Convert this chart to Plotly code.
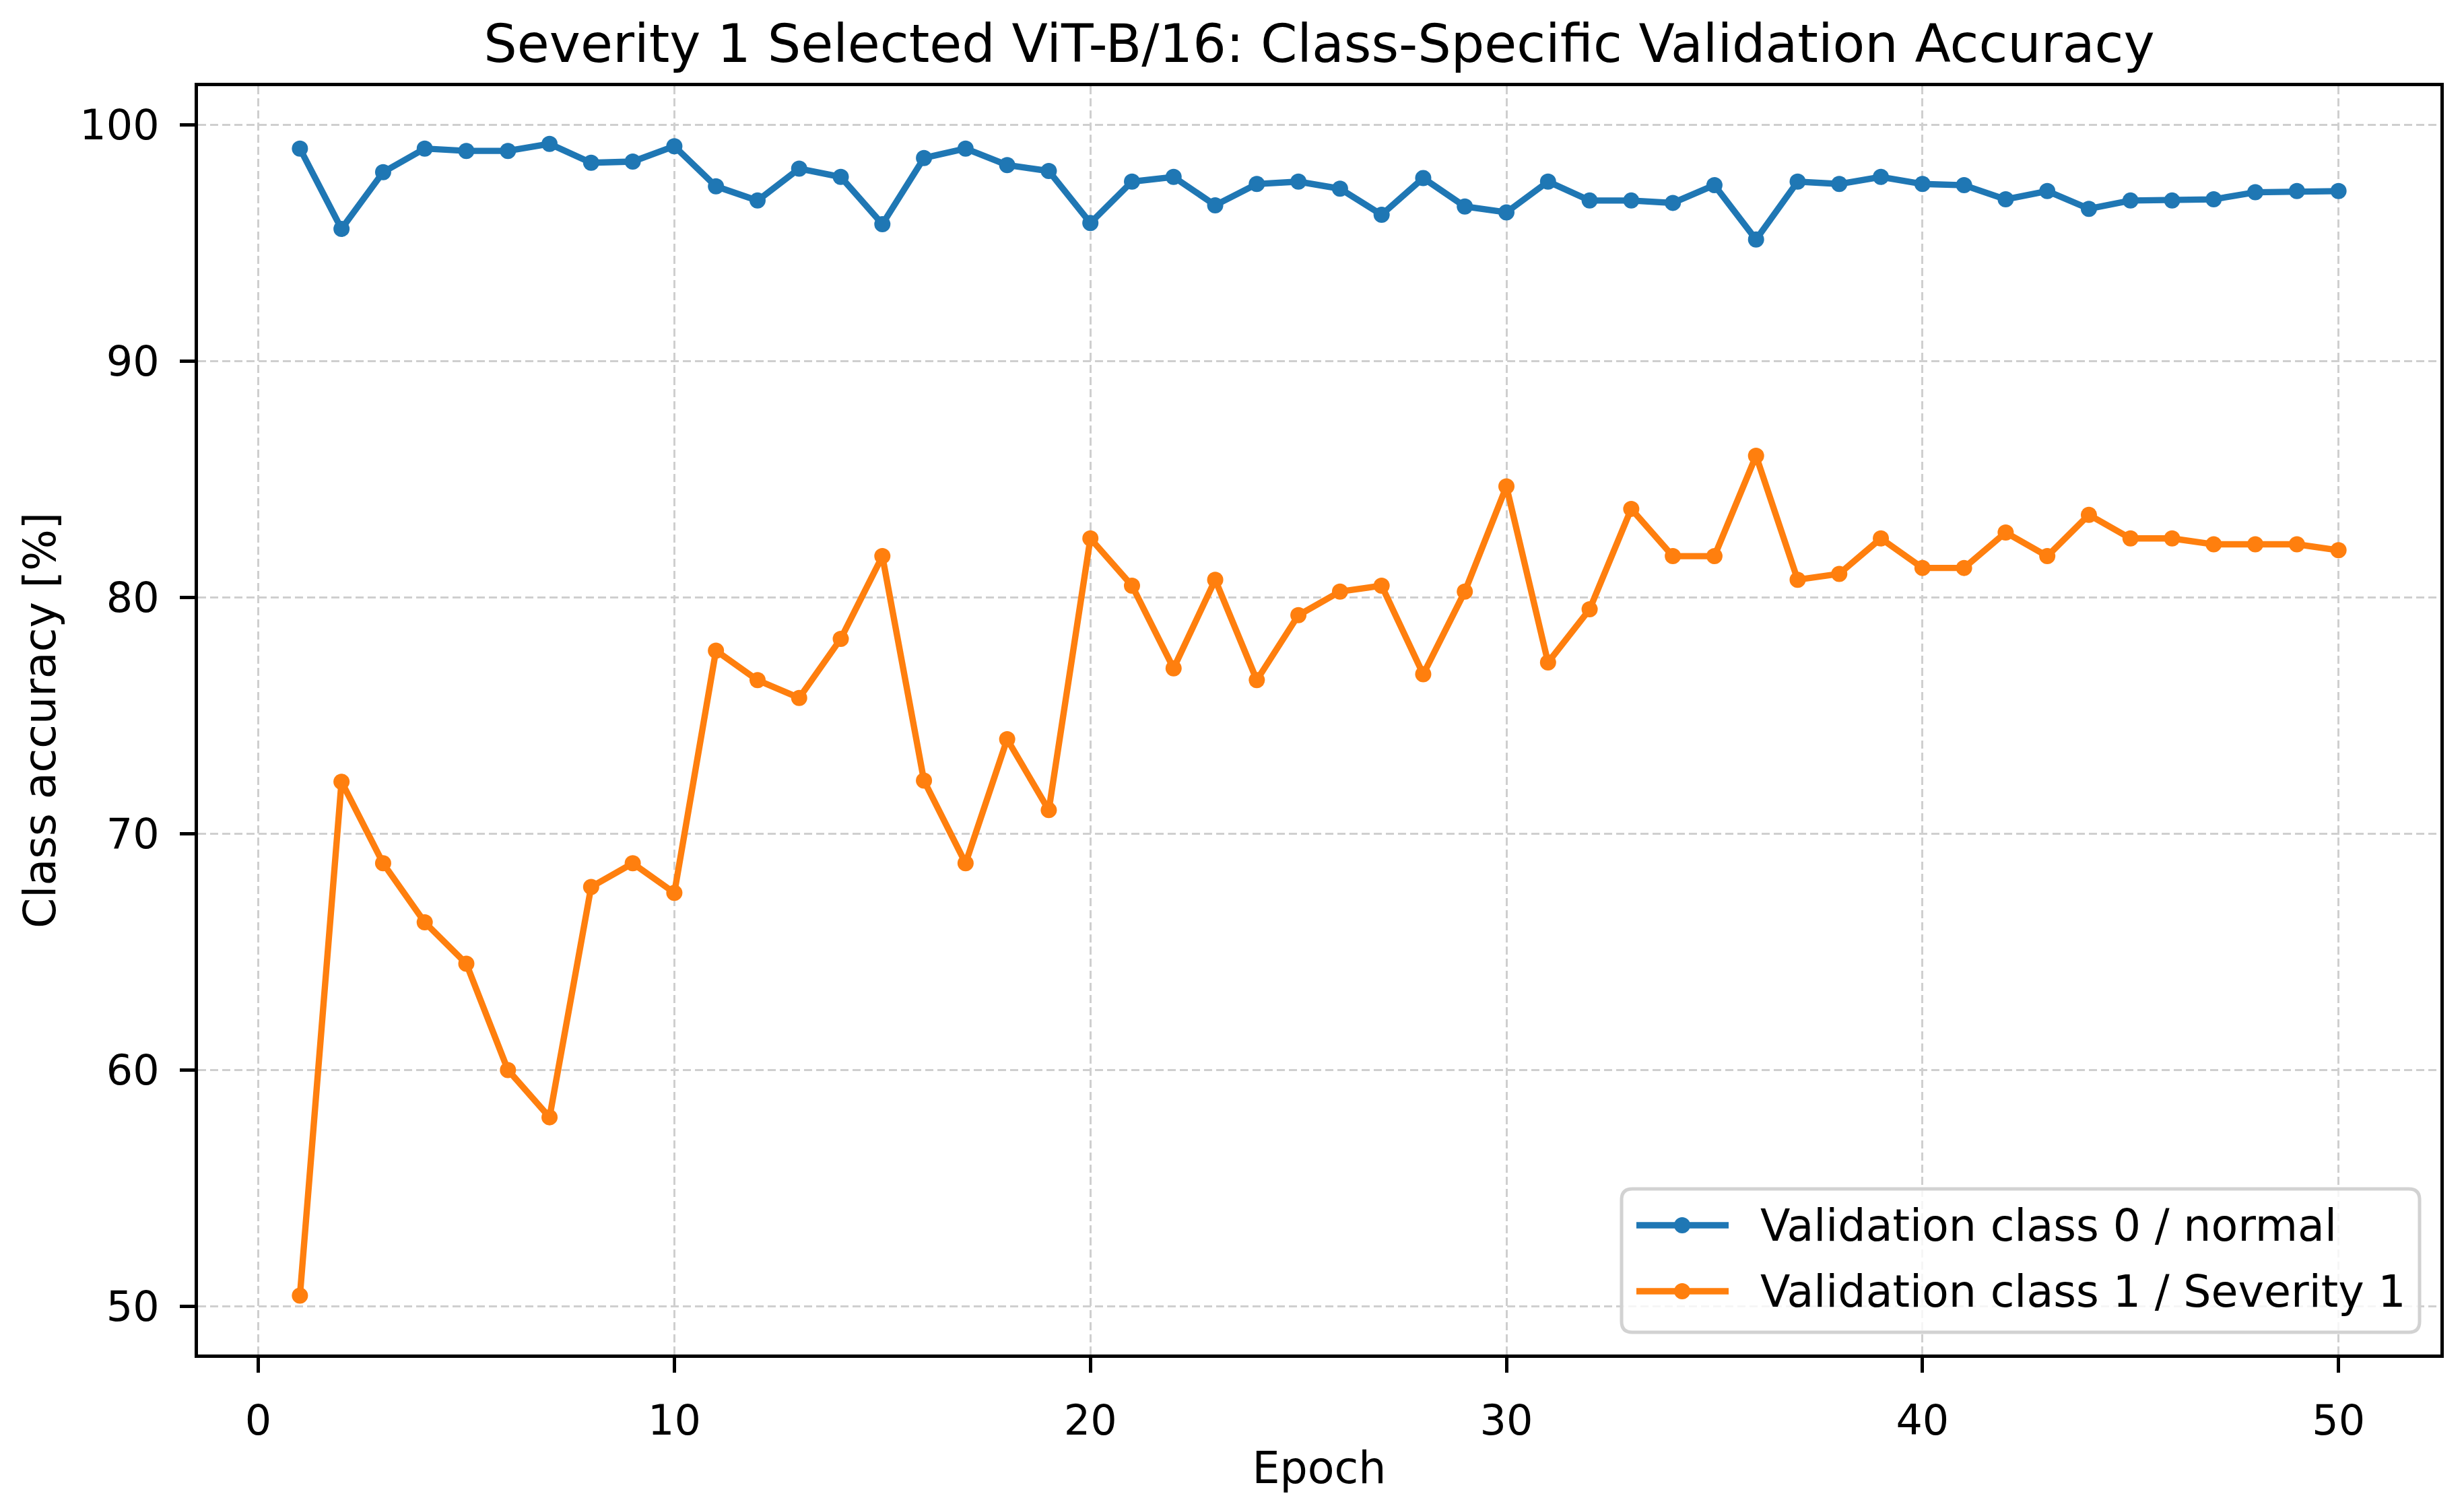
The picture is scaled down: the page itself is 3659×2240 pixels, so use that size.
import plotly.graph_objects as go

epochs = list(range(1, 51))

class0_normal = [
    99.0, 95.6, 98.0, 99.0, 98.9, 98.9, 99.2, 98.4, 98.45, 99.1,
    97.4, 96.8, 98.15, 97.8, 95.8, 98.6, 99.0, 98.3, 98.05, 95.85,
    97.6, 97.8, 96.6, 97.5, 97.6, 97.3, 96.2, 97.75, 96.55, 96.3,
    97.6, 96.8, 96.8, 96.7, 97.45, 95.15, 97.6, 97.5, 97.8, 97.5,
    97.45, 96.85, 97.2, 96.45, 96.8, 96.8, 96.85, 97.15, 97.2, 97.2,
]

class1_severity1 = [
    50.45, 72.2, 68.75, 66.25, 64.5, 60.0, 58.0, 67.75, 68.75, 67.5,
    77.75, 76.5, 75.75, 78.25, 81.75, 72.25, 68.75, 74.0, 71.0, 82.5,
    80.5, 77.0, 80.75, 76.5, 79.25, 80.25, 80.5, 76.75, 80.25, 84.7,
    77.25, 79.5, 83.75, 81.75, 81.75, 86.0, 80.75, 81.0, 82.5, 81.25,
    81.25, 82.75, 81.75, 83.5, 82.5, 82.5, 82.25, 82.25, 82.25, 82.0,
]

series_names = ["Validation class 0 / normal", "Validation class 1 / Severity 1"]
series_colors = ["#1f77b4", "#ff7f0e"]

title_text = "Severity 1 Selected ViT-B/16: Class-Specific Validation Accuracy"
x_title = "Epoch"
y_title = "Class accuracy [%]"
x_ticks = [0, 10, 20, 30, 40, 50]
y_ticks = [50, 60, 70, 80, 90, 100]

FONT = "DejaVu Sans"
W, H = 3659, 2240
L, R, T, B = 294, 3624, 128, 2012  # plot area in pixels


def px_x(p):
    return (p - L) / (R - L)


def px_y(p):
    return (B - p) / (B - T)


fig = go.Figure()
for name, vals, col in zip(series_names, [class0_normal, class1_severity1], series_colors):
    fig.add_trace(go.Scatter(
        x=epochs, y=vals, name=name, mode="lines+markers",
        line=dict(color=col, width=9.4),
        marker=dict(color=col, size=24, line=dict(width=0)),
        showlegend=False,
    ))

axis_common = dict(
    showline=True, linecolor="black", linewidth=5, mirror=True,
    ticks="outside", ticklen=22, tickwidth=5, tickcolor="black",
    showgrid=True, gridcolor="#cfcfcf", gridwidth=3, griddash="12px,6px",
    zeroline=False,
    tickfont=dict(family=FONT, size=62, color="black"),
    ticklabelstandoff=18,
)

# ---- manual legend (matplotlib-like, lower right) ----
bx0, bx1, by0, by1 = 2408, 3593, 1766, 1979
rad = 16
x0, x1 = px_x(bx0), px_x(bx1)
y0, y1 = px_y(by1), px_y(by0)
rx = rad / (R - L)
ry = rad / (B - T)
path = (f"M{x0 + rx},{y1} L{x1 - rx},{y1} Q{x1},{y1} {x1},{y1 - ry} "
        f"L{x1},{y0 + ry} Q{x1},{y0} {x1 - rx},{y0} L{x0 + rx},{y0} "
        f"Q{x0},{y0} {x0},{y0 + ry} L{x0},{y1 - ry} Q{x0},{y1} {x0 + rx},{y1} Z")
shapes = [dict(type="path", path=path, xref="paper", yref="paper",
               fillcolor="rgba(255,255,255,0.8)", line=dict(color="#d2d2d2", width=5),
               layer="above")]
annotations = []
row_y = [1820, 1918]
for name, col, ry_px in zip(series_names, series_colors, row_y):
    yy = px_y(ry_px)
    shapes.append(dict(type="line", xref="paper", yref="paper",
                       x0=px_x(2430), x1=px_x(2567), y0=yy, y1=yy,
                       line=dict(color=col, width=9.4), layer="above"))
    shapes.append(dict(type="circle", xref="paper", yref="paper",
                       xsizemode="pixel", ysizemode="pixel",
                       xanchor=px_x(2498), yanchor=yy,
                       x0=-12, x1=12, y0=-12, y1=12,
                       fillcolor=col, line=dict(width=0), layer="above"))
    annotations.append(dict(text=name, xref="paper", yref="paper",
                            x=px_x(2612), y=yy, xanchor="left", yanchor="middle",
                            showarrow=False,
                            font=dict(family=FONT, size=65, color="black")))

fig.update_layout(
    width=W, height=H,
    paper_bgcolor="white", plot_bgcolor="white",
    margin=dict(l=L, r=W - R, t=T, b=H - B),
    title=dict(text=title_text, x=(L + R) / 2 / W, xanchor="center",
               y=1 - 65 / H, yanchor="middle", yref="container",
               font=dict(family=FONT, size=78, color="black")),
    xaxis=dict(range=[-1.45, 52.45], tickvals=x_ticks,
               title=dict(text=x_title, font=dict(family=FONT, size=65, color="black"), standoff=14),
               **axis_common),
    yaxis=dict(range=[47.96, 101.64], tickvals=y_ticks,
               title=dict(text=y_title, font=dict(family=FONT, size=65, color="black"), standoff=16),
               **axis_common),
    shapes=shapes,
    annotations=annotations,
    showlegend=False,
)

fig.write_html("out.html")
